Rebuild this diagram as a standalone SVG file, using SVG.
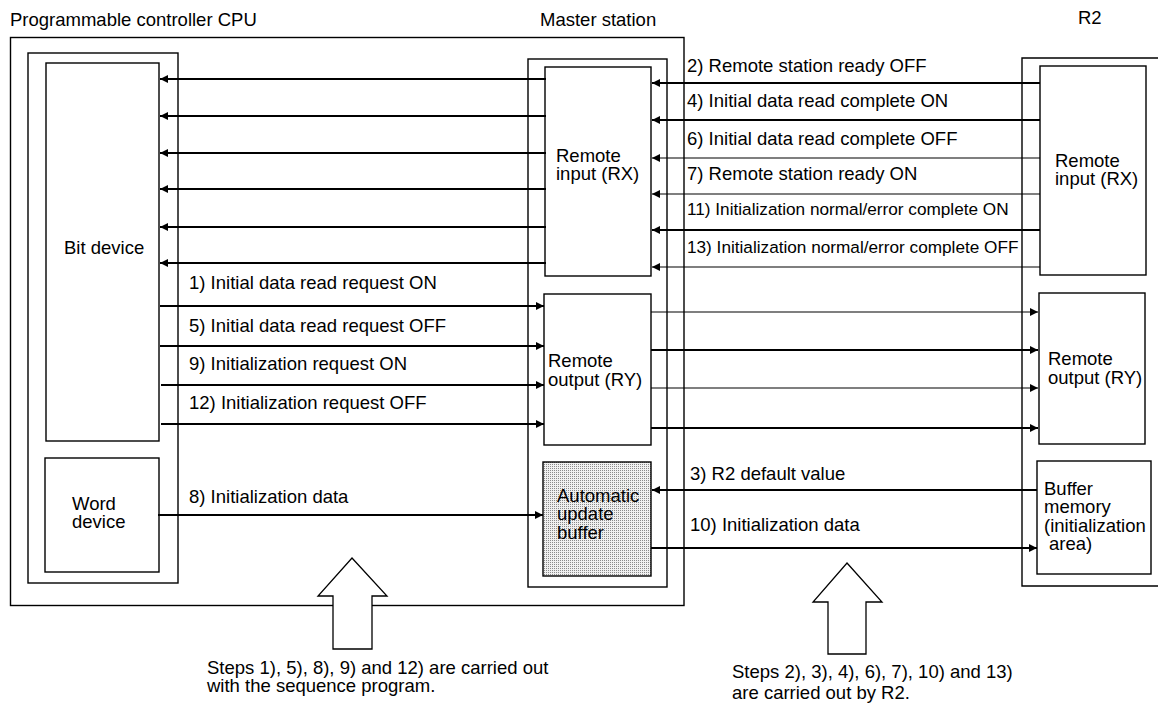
<svg xmlns="http://www.w3.org/2000/svg" width="1158" height="704" viewBox="0 0 1158 704">
<style>
text{font-family:"Liberation Sans",Arial,sans-serif;font-size:18.5px;fill:#000}
.box{fill:#fff;stroke:#000;stroke-width:1.4}
.frame{fill:none;stroke:#000;stroke-width:1.4}
.thick{stroke:#000;stroke-width:2;fill:none}
.thin{stroke:#000;stroke-width:1.2;fill:none}
.big{fill:#fff;stroke:#000;stroke-width:1.3}
.sm{font-size:17.2px}
</style>
<defs>
<marker id="ah" markerUnits="userSpaceOnUse" markerWidth="9" markerHeight="9" refX="8" refY="4" orient="auto">
<path d="M0,0 L8,4 L0,8 z" fill="#000"/>
</marker>
<pattern id="dots" width="2" height="2" patternUnits="userSpaceOnUse">
<rect width="2" height="2" fill="#f0f0f0"/>
<rect width="1" height="1" fill="#8a8a8a"/>
</pattern>
</defs>

<!-- titles -->
<text x="10" y="26">Programmable controller CPU</text>
<text x="540" y="26">Master station</text>
<text x="1078" y="24">R2</text>

<!-- outer frames -->
<rect id="cpu-frame" class="frame" x="10.5" y="37.5" width="673.5" height="568"/>
<rect id="cpu-inner" class="frame" x="28" y="53" width="150" height="530"/>
<rect id="master-inner" class="frame" x="528" y="59" width="139" height="528"/>
<path id="r2-frame" class="frame" d="M1160,58 H1022 V586 H1160"/>

<!-- nodes -->
<g id="bit-device">
<rect class="box" x="46" y="63" width="113" height="378"/>
<text x="64" y="254">Bit device</text>
</g>
<g id="word-device">
<rect class="box" x="45" y="458" width="114" height="114"/>
<text x="72" y="510">Word</text>
<text x="72" y="528">device</text>
</g>
<g id="master-rx">
<rect class="box" x="545" y="67" width="106" height="209"/>
<text x="556" y="162">Remote</text>
<text x="556" y="180">input (RX)</text>
</g>
<g id="master-ry">
<rect class="box" x="544" y="294" width="107" height="151"/>
<text x="548" y="367">Remote</text>
<text x="548" y="386">output (RY)</text>
</g>
<g id="auto-buffer">
<rect x="543" y="462" width="108" height="114" fill="url(#dots)" stroke="#000" stroke-width="1.4"/>
<text x="557" y="502">Automatic</text>
<text x="557" y="520">update</text>
<text x="557" y="539">buffer</text>
</g>
<g id="r2-rx">
<rect class="box" x="1040" y="66" width="106" height="209"/>
<text x="1055" y="167">Remote</text>
<text x="1055" y="185">input (RX)</text>
</g>
<g id="r2-ry">
<rect class="box" x="1039" y="293" width="106" height="151"/>
<text x="1048" y="365">Remote</text>
<text x="1048" y="384">output (RY)</text>
</g>
<g id="r2-buffer">
<rect class="box" x="1037" y="461" width="114" height="113"/>
<text x="1044" y="495">Buffer</text>
<text x="1044" y="513">memory</text>
<text x="1044" y="532">(initialization</text>
<text x="1049" y="550">area)</text>
</g>

<!-- connectors -->
<g id="connectors">
<line class="thick" x1="546" y1="79" x2="160" y2="79" marker-end="url(#ah)"/>
<line class="thick" x1="546" y1="116" x2="160" y2="116" marker-end="url(#ah)"/>
<line class="thick" x1="546" y1="153" x2="160" y2="153" marker-end="url(#ah)"/>
<line class="thick" x1="546" y1="189" x2="160" y2="189" marker-end="url(#ah)"/>
<line class="thick" x1="546" y1="227" x2="160" y2="227" marker-end="url(#ah)"/>
<line class="thick" x1="546" y1="263" x2="160" y2="263" marker-end="url(#ah)"/>
<line class="thick" x1="1040" y1="83" x2="652" y2="83" marker-end="url(#ah)"/>
<line class="thick" x1="1040" y1="120" x2="652" y2="120" marker-end="url(#ah)"/>
<line class="thin" x1="1040" y1="158" x2="652" y2="158" marker-end="url(#ah)"/>
<line class="thin" x1="1040" y1="194" x2="652" y2="194" marker-end="url(#ah)"/>
<line class="thick" x1="1040" y1="230" x2="652" y2="230" marker-end="url(#ah)"/>
<line class="thin" x1="1040" y1="267" x2="652" y2="267" marker-end="url(#ah)"/>
<line class="thick" x1="160" y1="306" x2="544" y2="306" marker-end="url(#ah)"/>
<line class="thick" x1="160" y1="346" x2="544" y2="346" marker-end="url(#ah)"/>
<line class="thick" x1="161" y1="385" x2="544" y2="385" marker-end="url(#ah)"/>
<line class="thick" x1="161" y1="424" x2="544" y2="424" marker-end="url(#ah)"/>
<line class="thin" x1="651" y1="312" x2="1038" y2="312" marker-end="url(#ah)"/>
<line class="thick" x1="651" y1="350" x2="1038" y2="350" marker-end="url(#ah)"/>
<line class="thin" x1="651" y1="388" x2="1038" y2="388" marker-end="url(#ah)"/>
<line class="thick" x1="651" y1="428" x2="1038" y2="428" marker-end="url(#ah)"/>
<line class="thick" x1="158" y1="515" x2="543" y2="515" marker-end="url(#ah)"/>
<line class="thick" x1="1037" y1="490" x2="652" y2="490" marker-end="url(#ah)"/>
<line class="thick" x1="651" y1="548" x2="1037" y2="548" marker-end="url(#ah)"/>

<text x="687" y="72">2) Remote station ready OFF</text>
<text x="687" y="107">4) Initial data read complete ON</text>
<text x="687" y="145">6) Initial data read complete OFF</text>
<text x="687" y="180">7) Remote station ready ON</text>
<text class="sm" x="687" y="215">11) Initialization normal/error complete ON</text>
<text class="sm" x="687" y="253">13) Initialization normal/error complete OFF</text>
<text x="189" y="289">1) Initial data read request ON</text>
<text x="189" y="332">5) Initial data read request OFF</text>
<text x="189" y="370">9) Initialization request ON</text>
<text x="189" y="409">12) Initialization request OFF</text>
<text x="189" y="503">8) Initialization data</text>
<text x="690" y="480">3) R2 default value</text>
<text x="690" y="531">10) Initialization data</text>
</g>

<!-- big hollow arrows -->
<polygon class="big" points="352,558 387,596 372,596 372,649 333,649 333,596 318,596"/>
<polygon class="big" points="847,563 882,602 866,602 866,654 828,654 828,602 813,602"/>

<text x="207" y="674">Steps 1), 5), 8), 9) and 12) are carried out</text>
<text x="207" y="692">with the sequence program.</text>
<text x="732" y="678">Steps 2), 3), 4), 6), 7), 10) and 13)</text>
<text x="732" y="699">are carried out by R2.</text>
</svg>
